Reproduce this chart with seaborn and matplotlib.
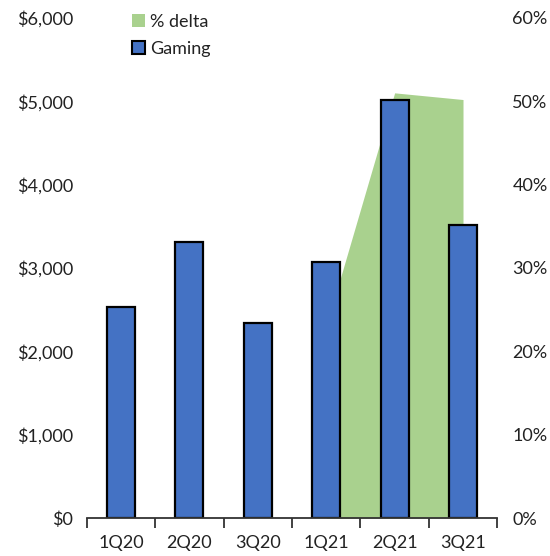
import matplotlib
matplotlib.use("Agg")
import matplotlib.pyplot as plt
import seaborn as sns
import pandas as pd
import numpy as np
from matplotlib.patches import Patch
from matplotlib.ticker import FuncFormatter, FixedLocator

quarters = ["1Q20", "2Q20", "3Q20", "1Q21", "2Q21", "3Q21"]
gaming = [2530, 3310, 2340, 3075, 5010, 3520]
delta_quarters = ["1Q21", "2Q21", "3Q21"]
delta_pct = [23, 51, 50.2]

sns.set_theme(style="white")
plt.rcParams["font.family"] = ["Lato", "DejaVu Sans"]

fig = plt.figure(figsize=(5.5, 5.56), dpi=100)
ax = fig.add_axes([0.158, 0.068, 0.746, 0.9])
ax2 = ax.twinx()

df = pd.DataFrame({"quarter": quarters, "Gaming": gaming})
sns.barplot(data=df, x="quarter", y="Gaming", ax=ax, color="#4472C4",
            saturation=1, width=0.41, edgecolor="black", linewidth=1.6)

xpos = [quarters.index(q) for q in delta_quarters]
ax2.fill_between(xpos, 0, delta_pct, color="#A9D18E", linewidth=0)

ax.set_zorder(ax2.get_zorder() + 1)
ax.patch.set_visible(False)

ax.set_xlim(-0.5, len(quarters) - 0.5)
ax.set_ylim(0, 6000)
ax2.set_ylim(0, 60)
ax.set_yticks(np.arange(0, 6001, 1000))
ax2.set_yticks(np.arange(0, 61, 10))
ax.yaxis.set_major_formatter(FuncFormatter(lambda v, p: f"${v:,.0f}"))
ax2.yaxis.set_major_formatter(FuncFormatter(lambda v, p: f"{v:.0f}%"))

for a in (ax, ax2):
    for s in ("top", "left", "right", "bottom"):
        a.spines[s].set_visible(False)
ax.spines["bottom"].set_visible(True)
ax.spines["bottom"].set_color("#333333")
ax.spines["bottom"].set_linewidth(1.3)

ax.set_xlabel("")
ax.set_ylabel("")
ax2.set_ylabel("")
ax.xaxis.set_minor_locator(FixedLocator(np.arange(-0.5, len(quarters), 1.0)))
ax.tick_params(axis="x", which="major", length=0, pad=12, labelsize=13, colors="#222222")
ax.tick_params(axis="x", which="minor", length=7, width=1.3, color="#333333", direction="out", bottom=True)
ax.tick_params(axis="y", length=0, labelsize=13, pad=10, colors="#222222")
ax2.tick_params(axis="y", length=0, labelsize=13, pad=11, colors="#222222")
ax2.tick_params(axis="x", length=0)
ax.grid(False)
ax2.grid(False)

handles = [Patch(facecolor="#A9D18E", edgecolor="none", label="% delta"),
           Patch(facecolor="#4472C4", edgecolor="black", linewidth=1.5, label="Gaming")]
ax.legend(handles=handles, loc="upper left", bbox_to_anchor=(0.07, 1.04), frameon=False,
          fontsize=13, handlelength=0.7, handleheight=0.7, handletextpad=0.3,
          labelspacing=0.6, labelcolor="#222222")

fig.savefig("out.png", dpi=100)
